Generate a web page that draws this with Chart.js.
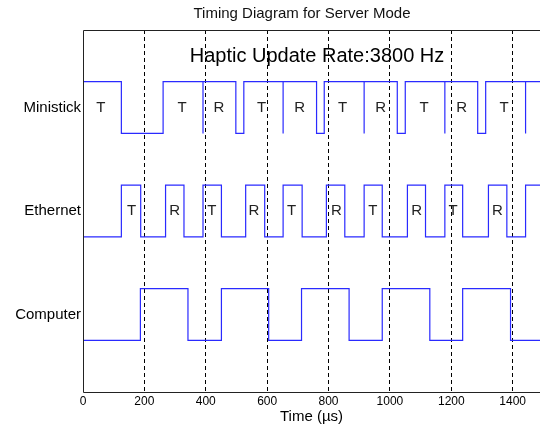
<!DOCTYPE html>
<html>
<head>
<meta charset="utf-8">
<title>Timing Diagram for Server Mode</title>
<script src="https://cdn.jsdelivr.net/npm/chart.js@4/dist/chart.umd.min.js"></script>
<style>
  body { margin: 0; background: #fff; }
  #chart { display: block; }
</style>
</head>
<body>
<canvas id="chart" width="540" height="435"></canvas>
<script>
// edge times in microseconds (each entry toggles the signal, repeated = glitch)
const ministickEdges = [125, 261, 391, 391, 498, 524, 652, 652, 761, 786, 916, 916, 1024, 1050, 1179, 1179, 1286, 1312, 1442, 1442];
const ethernetEdges = [125, 188, 269, 329, 391, 451, 530, 592, 652, 714, 793, 853, 916, 975, 1057, 1116, 1179, 1237, 1321, 1381, 1442];
const computerEdges = [187, 342, 451, 605, 712, 867, 975, 1130, 1237, 1393];

// [low, high] levels and starting state
const ministickLevels = [5, 6];
const ethernetLevels = [3, 4];
const computerLevels = [1, 2];
const ministickStartHigh = true;
const ethernetStartHigh = false;
const computerStartHigh = false;

const signalNames = ['Computer', 'Ethernet', 'Ministick'];
const signalRows = [1.5, 3.5, 5.5];

// T / R annotations (x in microseconds)
const ministickTags = ['T', 'T', 'R', 'T', 'R', 'T', 'R', 'T', 'R', 'T'];
const ministickTagX = [58, 323, 443, 582, 706, 846, 970, 1111, 1234, 1372];
const ethernetTags = ['T', 'R', 'T', 'R', 'T', 'R', 'T', 'R', 'T', 'R'];
const ethernetTagX = [158, 299, 420, 557, 680, 826, 944, 1087, 1206, 1350];

const xTicks = [0, 200, 400, 600, 800, 1000, 1200, 1400];
const xMin = 0;
const xMax = 1489;

function buildSteps(edges, levels, startHigh) {
    let state = startHigh ? 1 : 0;
    let pts = [{x: xMin, y: levels[state]}];
    edges.forEach(t => {
        pts.push({x: t, y: levels[state]});
        state = 1 - state;
        pts.push({x: t, y: levels[state]});
    });
    pts.push({x: xMax, y: levels[state]});
    return pts;
}

function lineSet(label, pts) {
    return {
        label: label,
        data: pts,
        borderColor: '#2a2aff',
        borderWidth: 1.2,
        pointRadius: 0,
        tension: 0,
        fill: false
    };
}

const textFont = '"Liberation Sans", Arial, sans-serif';

const overlay = {
    id: 'overlay',
    afterDatasetsDraw(chart) {
        const ctx = chart.ctx;
        const a = chart.chartArea;
        const xs = chart.scales.x;
        const ys = chart.scales.y;
        ctx.save();

        // axes box (left, top, bottom)
        ctx.strokeStyle = '#222';
        ctx.lineWidth = 1;
        ctx.beginPath();
        ctx.moveTo(chart.width, Math.round(a.top) + 0.5);
        ctx.lineTo(Math.round(a.left) + 0.5, Math.round(a.top) + 0.5);
        ctx.lineTo(Math.round(a.left) + 0.5, Math.round(a.bottom) + 0.5);
        ctx.lineTo(chart.width, Math.round(a.bottom) + 0.5);
        ctx.stroke();

        ctx.fillStyle = '#111';
        ctx.textBaseline = 'alphabetic';
        ctx.textAlign = 'center';
        ctx.font = '15px ' + textFont;
        ctx.fillText('Timing Diagram for Server Mode', 302, 18);

        ctx.font = '20px ' + textFont;
        ctx.fillStyle = '#000';
        ctx.fillText('Haptic Update Rate:3800 Hz', 317, 62);

        ctx.font = '15px ' + textFont;
        ctx.fillStyle = '#222';
        ctx.textBaseline = 'middle';
        ministickTags.forEach((t, i) => {
            ctx.fillText(t, xs.getPixelForValue(ministickTagX[i]), ys.getPixelForValue(5.5));
        });
        ethernetTags.forEach((t, i) => {
            ctx.fillText(t, xs.getPixelForValue(ethernetTagX[i]), ys.getPixelForValue(3.5));
        });
        ctx.restore();
    }
};

new Chart(document.getElementById('chart'), {
    type: 'line',
    data: {
        datasets: [
            lineSet('Ministick', buildSteps(ministickEdges, ministickLevels, ministickStartHigh)),
            lineSet('Ethernet', buildSteps(ethernetEdges, ethernetLevels, ethernetStartHigh)),
            lineSet('Computer', buildSteps(computerEdges, computerLevels, computerStartHigh))
        ]
    },
    options: {
        responsive: false,
        animation: false,
        layout: { padding: { top: 30, left: 0, right: 0, bottom: 0 } },
        plugins: {
            legend: { display: false },
            tooltip: { enabled: false }
        },
        scales: {
            x: {
                type: 'linear',
                min: xMin,
                max: xMax,
                afterBuildTicks: scale => {
                    scale.ticks = xTicks.map(v => ({value: v}));
                },
                afterFit: scale => { scale.height = 43; },
                ticks: {
                    font: { family: textFont, size: 12 },
                    color: '#000',
                    padding: 2,
                    maxRotation: 0,
                    autoSkip: false,
                    callback: v => String(v)
                },
                grid: {
                    drawTicks: false,
                    color: ctx => (ctx.tick && ctx.tick.value === 0) ? 'rgba(0,0,0,0)' : '#000',
                    lineWidth: 1
                },
                border: { display: false, dash: [4, 3] },
                title: {
                    display: true,
                    text: 'Time (\u00b5s)',
                    color: '#000',
                    font: { family: textFont, size: 15 },
                    padding: { top: 0, bottom: 9 }
                }
            },
            y: {
                type: 'linear',
                min: 0,
                max: 7,
                afterBuildTicks: scale => {
                    scale.ticks = signalRows.map(v => ({value: v}));
                },
                afterFit: scale => { scale.width = 83; },
                ticks: {
                    font: { family: textFont, size: 15 },
                    color: '#000',
                    padding: 2,
                    callback: v => signalNames[signalRows.indexOf(v)]
                },
                grid: { display: false, drawTicks: false },
                border: { display: false }
            }
        }
    },
    plugins: [overlay]
});
</script>
</body>
</html>
